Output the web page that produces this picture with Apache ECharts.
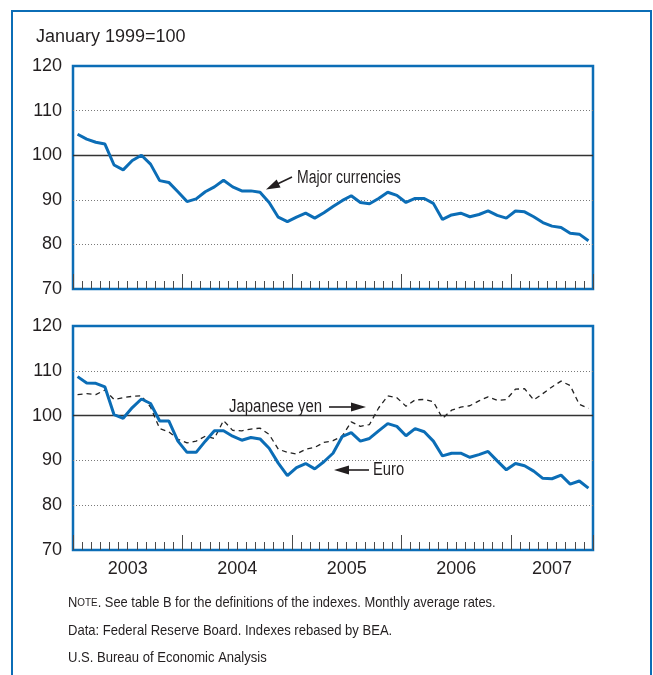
<!DOCTYPE html>
<html><head><meta charset="utf-8">
<script src="https://cdn.jsdelivr.net/npm/echarts@6/dist/echarts.min.js"></script>
<style>html,body{margin:0;padding:0;background:#fff}#c{width:653px;height:675px}</style>
</head><body><div id="c"></div>
<script>
// ---------- data ----------
const years = [2003, 2004, 2005, 2006, 2007];
const monthNames = ['Jan','Feb','Mar','Apr','May','Jun','Jul','Aug','Sep','Oct','Nov','Dec'];
const lastMonthOf2007 = 9; // data run Jan 2003 .. Sep 2007
const months = [];
years.forEach(y => monthNames.forEach((m, k) => {
  if (y < 2007 || k < lastMonthOf2007) months.push(m + ' ' + y);
}));

const yTicks = [70, 80, 90, 100, 110, 120];

const majorCurrencies = [
  104.7,103.6,102.9,102.5,97.8,96.7,98.8,100.0,98.0,94.3,
  93.9,91.8,89.6,90.2,91.8,92.9,94.4,92.9,92.0,92.0,
  91.7,89.4,86.1,85.1,86.1,87.0,85.9,87.1,88.5,89.8,
  90.9,89.4,89.1,90.3,91.7,91.0,89.4,90.3,90.3,89.2,
  85.6,86.6,87.0,86.2,86.7,87.5,86.5,85.9,87.5,87.3,
  86.2,84.9,84.1,83.8,82.5,82.3,80.8
];
const euro = [
  108.7,107.3,107.2,106.4,100.2,99.4,101.8,103.7,102.7,98.8,
  98.8,94.3,91.8,91.8,94.3,96.6,96.6,95.4,94.5,95.1,
  94.8,92.7,89.4,86.6,88.4,89.3,88.1,89.7,91.6,95.3,
  96.2,94.3,94.9,96.6,98.2,97.6,95.5,97.1,96.4,94.3,
  91.0,91.6,91.6,90.7,91.3,92.0,89.9,87.9,89.3,88.8,
  87.6,86.0,85.9,86.7,84.7,85.4,83.8
];
const yen = [
  104.7,104.9,104.7,105.7,103.6,104.0,104.3,104.4,101.9,97.1,
  96.4,94.7,93.9,94.3,95.4,94.9,98.9,96.7,96.6,97.0,
  97.2,95.8,92.5,91.8,91.4,92.5,92.9,94.0,94.4,95.4,
  98.6,97.6,98.0,101.7,104.4,104.0,102.1,103.5,103.6,103.1,
  99.4,101.2,101.9,102.2,103.3,104.2,103.4,103.6,105.9,106.0,
  103.5,104.9,106.4,107.7,106.7,102.5,101.6
];

// ---------- styles ----------
const BLUE = '#0b6db6';
const INK = '#231f20';
const FONT = 'Liberation Sans, Arial, sans-serif';

const n = months.length;
const yearStarts = years.map(y => months.findIndex(m => m.endsWith(String(y))));
const yearCenters = yearStarts.map((s, i) => {
  const cnt = months.filter(m => m.endsWith(String(years[i]))).length;
  return s + cnt / 2;
});

function catAxis(g) {
  return { type: 'category', gridIndex: g, data: months, boundaryGap: true, position: 'bottom',
           show: false, splitLine: { show: false }, axisTick: { show: false } };
}
function tickAxis(g, len, intervalFn) {
  return {
    type: 'category', gridIndex: g, data: months, boundaryGap: true, position: 'bottom',
    axisLine: { show: false, onZero: false },
    splitLine: { show: false },
    axisTick: { show: true, inside: true, length: len, interval: intervalFn,
                lineStyle: { color: '#4a4a4a', width: 1 } },
    axisLabel: { show: false }
  };
}
function yearLabelAxis(g) {
  return {
    type: 'value', gridIndex: g, min: 0, max: n, position: 'bottom',
    axisLine: { show: false, onZero: false },
    splitLine: { show: false }, axisTick: { show: false },
    axisLabel: {
      show: true, customValues: yearCenters, margin: 10,
      fontSize: 18, color: INK, fontFamily: FONT,
      formatter: v => String(years[Math.floor(v / 12)])
    }
  };
}
function valAxis(g) {
  return {
    type: 'value', gridIndex: g, min: yTicks[0], max: yTicks[yTicks.length - 1], interval: 10,
    axisLine: { show: false }, axisTick: { show: false },
    axisLabel: { fontSize: 18, color: INK, fontFamily: FONT, margin: 11 },
    splitLine: { show: true, showMinLine: false, showMaxLine: false,
                 lineStyle: { color: '#7a7a7a', width: 1, type: [1, 2] } }
  };
}
const refLine = {
  silent: true, symbol: 'none', label: { show: false },
  lineStyle: { color: '#333', type: 'solid', width: 1.3 },
  data: [{ yAxis: 100 }]
};

function arrow(x1, y1, x2, y2, headLen, halfW) {
  const dx = x2 - x1, dy = y2 - y1, L = Math.hypot(dx, dy);
  const ux = dx / L, uy = dy / L, px = -uy, py = ux;
  const bx = x2 - ux * headLen, by = y2 - uy * headLen;
  return [
    { type: 'line', shape: { x1, y1, x2: bx + ux * 2, y2: by + uy * 2 },
      style: { stroke: INK, lineWidth: 1.6 }, z: 50 },
    { type: 'polygon', shape: { points: [[x2, y2], [bx + px * halfW, by + py * halfW], [bx - px * halfW, by - py * halfW]] },
      style: { fill: INK }, z: 50 }
  ];
}
function label(text, x, y, size, sx) {
  return {
    type: 'text', x, y, scaleX: sx, z: 50,
    style: { text, fontSize: size, fontFamily: FONT, fill: INK, align: 'left', verticalAlign: 'middle' }
  };
}

const minorEvery = () => true;
const majorEvery = i => i % 12 === 0;

const chart = echarts.init(document.getElementById('c'), null, { renderer: 'canvas' });
chart.setOption({
  animation: false,
  backgroundColor: '#fff',
  textStyle: { fontFamily: FONT },
  grid: [
    { left: 73, right: 60, top: 66, height: 223, show: true, borderColor: BLUE, borderWidth: 2.5 },
    { left: 73, right: 60, top: 326, height: 224, show: true, borderColor: BLUE, borderWidth: 2.5 }
  ],
  xAxis: [
    catAxis(0), tickAxis(0, 8, minorEvery), tickAxis(0, 15, majorEvery),
    catAxis(1), tickAxis(1, 8, minorEvery), tickAxis(1, 15, majorEvery), yearLabelAxis(1)
  ],
  yAxis: [valAxis(0), valAxis(1)],
  series: [
    { name: 'Major currencies', type: 'line', xAxisIndex: 0, yAxisIndex: 0, data: majorCurrencies,
      symbol: 'none', lineStyle: { color: BLUE, width: 3 }, z: 10, markLine: refLine },
    { name: 'Japanese yen', type: 'line', xAxisIndex: 3, yAxisIndex: 1, data: yen,
      symbol: 'none', lineStyle: { color: '#222', width: 1.3, type: [5, 4] }, z: 9, markLine: refLine },
    { name: 'Euro', type: 'line', xAxisIndex: 3, yAxisIndex: 1, data: euro,
      symbol: 'none', lineStyle: { color: BLUE, width: 3 }, z: 10 }
  ],
  graphic: [
    { type: 'rect', shape: { x: 12, y: 11, width: 639, height: 720 },
      style: { fill: 'none', stroke: BLUE, lineWidth: 2 }, z: 0 },
    label('January 1999=100', 36, 37, 18, 1),
    label('Major currencies', 297, 178, 18, 0.78),
    ...arrow(292, 177, 266, 189.5, 14, 4.5),
    label('Japanese yen', 229, 407, 18, 0.83),
    ...arrow(329, 407, 366, 407, 15, 4.5),
    label('Euro', 373, 470, 18, 0.82),
    ...arrow(369, 470, 334, 470, 15, 4.5),
    { type: 'text', x: 68, y: 603, scaleX: 0.86, z: 50,
      style: { text: 'N{sc|OTE}. See table B for the definitions of the indexes. Monthly average rates.',
               fontSize: 15, fontFamily: FONT, fill: INK, align: 'left', verticalAlign: 'middle',
               rich: { sc: { fontSize: 11.5, fontFamily: FONT, fill: INK } } } },
    label('Data: Federal Reserve Board. Indexes rebased by BEA.', 68, 631, 15, 0.87),
    label('U.S. Bureau of Economic Analysis', 68, 658, 15, 0.87)
  ]
});
</script></body></html>
